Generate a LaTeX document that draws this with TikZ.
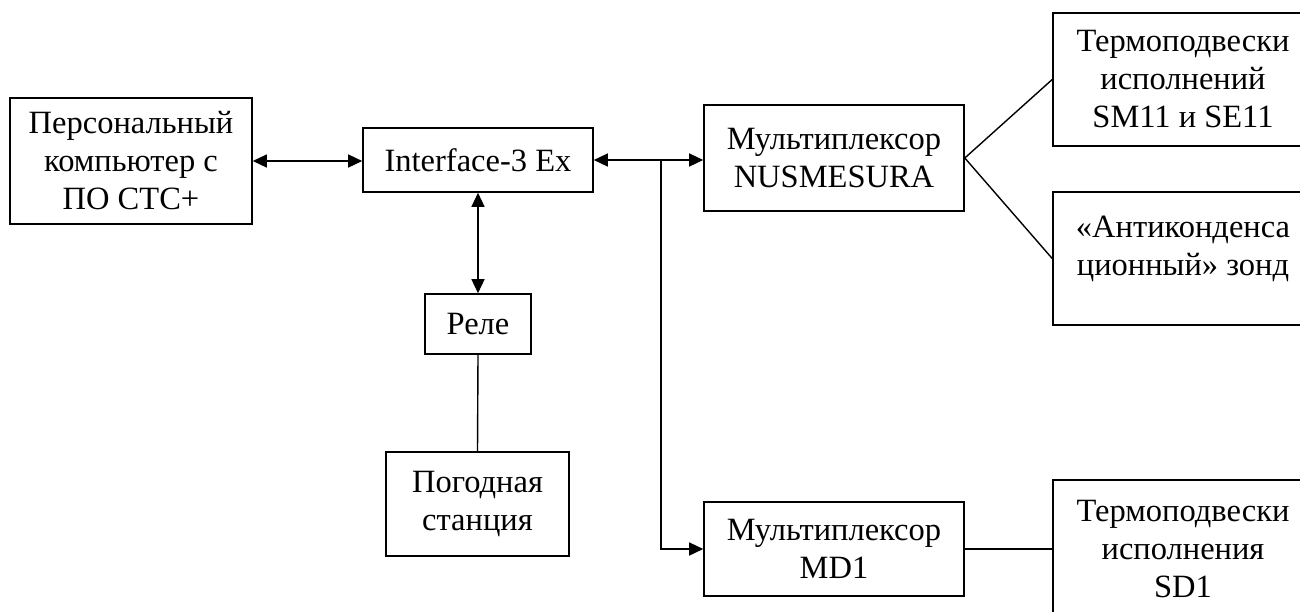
\documentclass[tikz,border=0pt]{standalone}
\usepackage{fontspec}
\setmainfont{Liberation Serif}
\usetikzlibrary{arrows.meta}
\tikzset{
  blk/.style={draw, line width=1.6pt, inner sep=0pt, align=center,
    font=\fontsize{32.5}{38}\selectfont},
  txt/.style={inner sep=0pt, align=center, font=\fontsize{32.5}{38}\selectfont},
  conn/.style={line width=1.4pt},
  tip/.style={-{Triangle[length=14pt,width=13pt]}},
  tips/.style={{Triangle[length=14pt,width=13pt]}-{Triangle[length=14pt,width=13pt]}}
}
\begin{document}
\begin{tikzpicture}[x=1pt,y=-1pt]
\useasboundingbox (0,0) rectangle (1300,611);
\clip (0,0) rectangle (1300,611);
\node[blk, minimum width=242pt, minimum height=126pt] (pc) at (131,161) {Персональный\\компьютер с\\ПО СТС+};
\node[blk, minimum width=230pt, minimum height=64pt] (iface) at (478,160) {Interface-3 Ex};
\node[blk, minimum width=260pt, minimum height=106pt] (nus) at (834,158) {Мультиплексор\\NUSMESURA};
\node[blk, minimum width=260pt, minimum height=133pt] (term1) at (1183,79.5) {Термоподвески\\исполнений\\SM11 и SE11};
\node[blk, minimum width=260pt, minimum height=133pt] (anti) at (1183,258.5) {};
\node[txt] (antit) at (1183,249) {«Антиконденса\\ционный» зонд};
\node[blk, minimum width=106pt, minimum height=60pt] (rele) at (478,324) {Реле};
\node[blk, minimum width=183pt, minimum height=104pt] (weather) at (477.5,504) {Погодная\\станция};
\node[blk, minimum width=260pt, minimum height=94pt] (md1) at (834,549) {Мультиплексор\\MD1};
\node[blk, minimum width=260pt, minimum height=138pt] (term2) at (1183,549) {Термоподвески\\исполнения\\SD1};
\coordinate (j) at (661,160);
\draw[conn, tips] (pc.east) -- (pc.east -| iface.west);
\draw[conn, tips] (iface.east) -- (iface.east -| nus.west);
\draw[conn, tip] (j) |- (md1.west);
\draw[conn, tips] (iface.south) -- (rele.north);
\draw[conn] (rele.south) -- (weather.north);
\draw[conn] (nus.east) -- (term1.west);
\draw[conn] (nus.east) -- (anti.west);
\draw[conn] (md1.east) -- (term2.west);
\end{tikzpicture}
\end{document}
